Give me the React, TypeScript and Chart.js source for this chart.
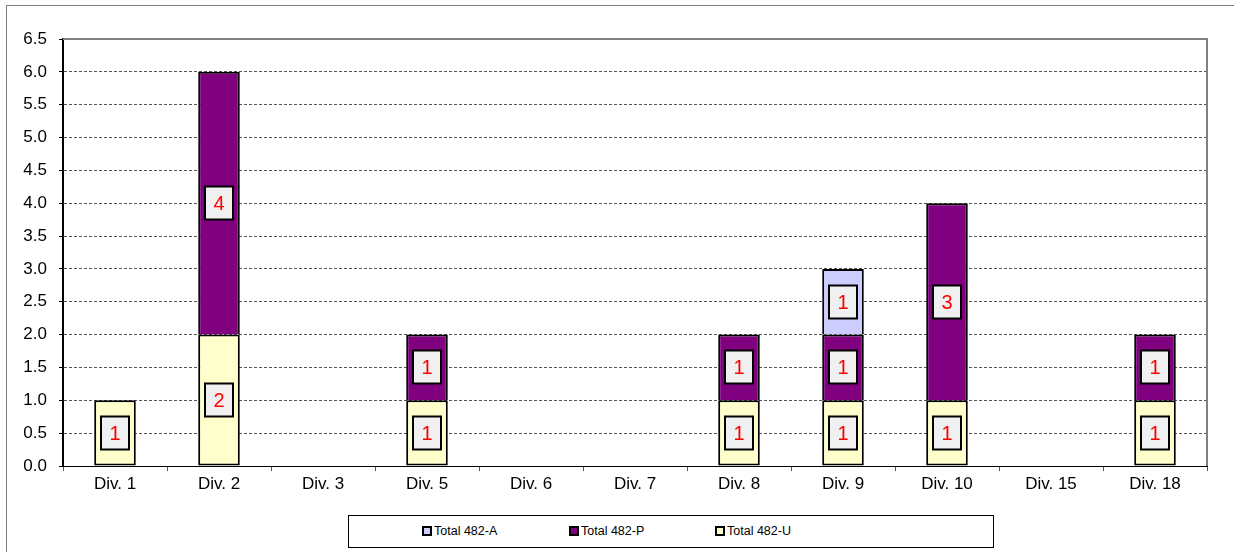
import React, { useEffect, useRef } from "react";
import { Chart, registerables } from "chart.js";

Chart.register(...registerables);

const categories = ["Div. 1", "Div. 2", "Div. 3", "Div. 5", "Div. 6", "Div. 7", "Div. 8", "Div. 9", "Div. 10", "Div. 15", "Div. 18"];
const total482U = [1, 2, null, 1, null, null, 1, 1, 1, null, 1];
const total482P = [null, 4, null, 1, null, null, 1, 1, 3, null, 1];
const total482A = [null, null, null, null, null, null, null, 1, null, null, null];
const legendItems = [
  { label: "Total 482-A", color: "#CCCCFF" },
  { label: "Total 482-P", color: "#800080" },
  { label: "Total 482-U", color: "#FFFFCC" },
];
const FONT = "'Liberation Sans', Arial, sans-serif";

const boxLabels = {
  id: "boxLabels",
  afterDatasetsDraw(chart: any) {
    const ctx = chart.ctx;
    ctx.save();
    chart.data.datasets.forEach((ds: any, di: number) => {
      const meta = chart.getDatasetMeta(di);
      meta.data.forEach((bar: any, i: number) => {
        const v = ds.data[i];
        if (v == null || v === 0) return;
        const cx = Math.round(bar.x);
        const cy = Math.round((bar.y + bar.base) / 2);
        const w = 28, h = 33;
        ctx.fillStyle = "#F0F0F0";
        ctx.fillRect(cx - w / 2, cy - h / 2, w, h);
        ctx.lineWidth = 2;
        ctx.strokeStyle = "#000";
        ctx.strokeRect(cx - w / 2, cy - h / 2, w, h);
        ctx.fillStyle = "#FF0000";
        ctx.font = `20px ${FONT}`;
        ctx.textAlign = "center";
        ctx.textBaseline = "middle";
        ctx.fillText(String(v), cx, cy + 1);
      });
    });
    ctx.restore();
  },
};

const plotFrame = {
  id: "plotFrame",
  afterDraw(chart: any) {
    const { ctx, chartArea: a } = chart;
    ctx.save();
    ctx.strokeStyle = "#808080";
    ctx.lineWidth = 2;
    ctx.beginPath();
    ctx.moveTo(a.left, a.top);
    ctx.lineTo(a.right, a.top);
    ctx.lineTo(a.right, a.bottom);
    ctx.stroke();
    ctx.restore();
  },
};

export default function App() {
  const ref = useRef<HTMLCanvasElement>(null);
  useEffect(() => {
    const ds = (label: string, data: any[], color: string, bottom: number) => ({
      label,
      data,
      backgroundColor: color,
      borderColor: "#000",
      borderWidth: { top: 2, left: 2, right: 2, bottom },
      borderSkipped: false,
      barPercentage: 0.4,
      categoryPercentage: 1,
    });
    const chart = new Chart(ref.current!, {
      type: "bar",
      data: {
        labels: categories,
        datasets: [
          ds("Total 482-U", total482U, "#FFFFCC", 2),
          ds("Total 482-P", total482P, "#800080", 0),
          ds("Total 482-A", total482A, "#CCCCFF", 0),
        ],
      },
      options: {
        animation: false,
        responsive: false,
        layout: { padding: { left: 0, top: 39, right: 27, bottom: 56 } },
        plugins: { legend: { display: false }, tooltip: { enabled: false } },
        scales: {
          x: {
            stacked: true,
            offset: true,
            afterFit: (s: any) => { s.height = 30; },
            grid: {
              offset: true,
              drawOnChartArea: false,
              drawTicks: true,
              tickLength: 5,
              tickColor: "#555",
              tickWidth: 1,
            },
            border: { color: "#000", width: 1 },
            ticks: { color: "#000", font: { family: FONT, size: 17 }, padding: 3, maxRotation: 0, autoSkip: false },
          },
          y: {
            stacked: true,
            min: 0,
            max: 6.5,
            afterFit: (s: any) => { s.width = 63; },
            grid: {
              color: "#555",
              tickBorderDash: [],
              tickColor: "#000",
              tickLength: 4,
              lineWidth: 1,
            },
            border: { color: "#000", width: 2, dash: [3, 2] },
            ticks: {
              stepSize: 0.5,
              color: "#000",
              font: { family: FONT, size: 17 },
              padding: 12,
              callback: (v: any) => Number(v).toFixed(1),
            },
          },
        },
      },
      plugins: [boxLabels, plotFrame],
    });
    return () => chart.destroy();
  }, []);

  return (
    <div style={{ position: "fixed", left: 0, top: 0, width: 1234, height: 552, overflow: "hidden", background: "#fff" }}>
      <div style={{ position: "absolute", left: 6, top: 5, width: 1400, height: 700, borderLeft: "1px solid #808080", borderTop: "1px solid #808080" }} />
      <canvas ref={ref} width={1234} height={552} style={{ position: "absolute", left: 0, top: 0 }} />
      <div style={{ position: "absolute", left: 348, top: 515, width: 644, height: 31, border: "1px solid #000", background: "#fff", fontFamily: FONT, fontSize: 12.5 }}>
        {legendItems.map((it, i) => (
          <div key={i} style={{ position: "absolute", left: [73, 220, 366][i], top: 8, display: "flex", alignItems: "center", whiteSpace: "nowrap" }}>
            <span style={{ display: "inline-block", width: 6, height: 6, background: it.color, border: "2px solid #000", marginRight: 2 }} />
            <span>{it.label}</span>
          </div>
        ))}
      </div>
    </div>
  );
}
